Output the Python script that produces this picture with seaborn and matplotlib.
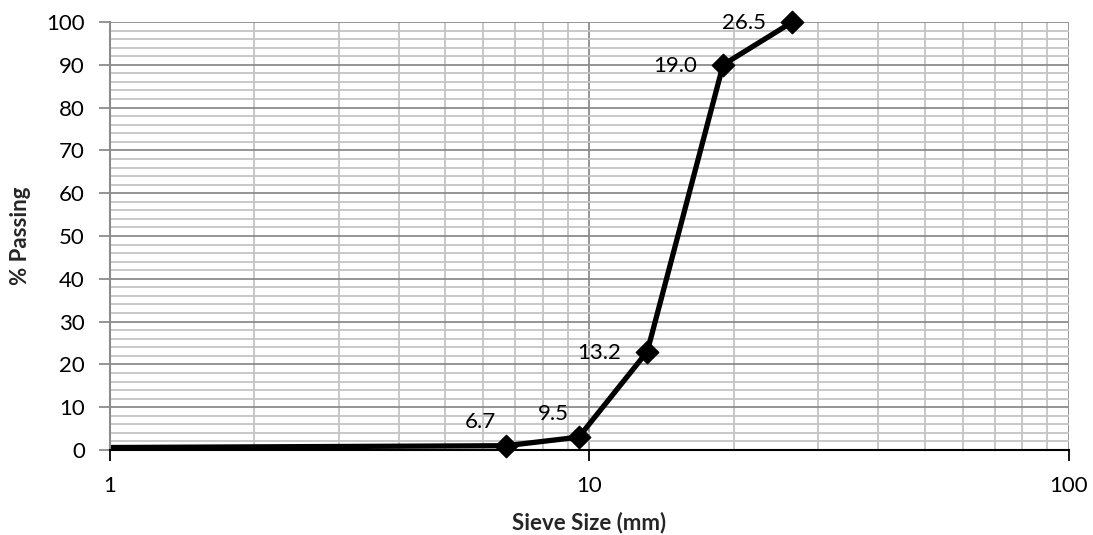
import numpy as np
import pandas as pd
import matplotlib
matplotlib.use("Agg")
import matplotlib.pyplot as plt
import seaborn as sns
from matplotlib.ticker import LogLocator, FixedLocator, NullFormatter, FuncFormatter

# Sieve analysis results
sieve_mm = [0.075, 6.7, 9.5, 13.2, 19.0, 26.5]
passing = [0.0, 1.0, 3.0, 23.0, 90.0, 100.0]
labels = ["0.075", "6.7", "9.5", "13.2", "19.0", "26.5"]

sns.set_theme(style="white")
plt.rcParams["font.family"] = ["Lato", "DejaVu Sans"]

fig = plt.figure(figsize=(10.93, 5.35), dpi=100)
ax = fig.add_axes([0.1006, 0.1589, 0.8774, 0.8000])

X_MIN, X_MAX = 1, 100
df = pd.DataFrame({"size": sieve_mm, "pass": passing, "label": labels})

# grading curve (clipped to the plot area)
sns.lineplot(data=df, x="size", y="pass", ax=ax, color="black", lw=3.8,
             sort=False)
# diamond markers for sieves inside the axis range, drawn over the frame
shown = df[(df["size"] >= X_MIN) & (df["size"] <= X_MAX)]
sns.scatterplot(data=shown, x="size", y="pass", ax=ax, color="black",
                marker="D", s=130, edgecolor="black", linewidth=1,
                clip_on=False, zorder=5)

ax.set_xscale("log")
ax.set_xlim(X_MIN, X_MAX)
ax.set_ylim(0, 100)

# grid: major decades / tens, minor units / twos
ax.xaxis.set_major_locator(FixedLocator([1, 10, 100]))
ax.xaxis.set_minor_locator(LogLocator(base=10, subs=np.arange(2, 10)))
ax.xaxis.set_major_formatter(FuncFormatter(lambda v, p: f"{v:g}"))
ax.xaxis.set_minor_formatter(NullFormatter())
ax.yaxis.set_major_locator(FixedLocator(np.arange(0, 101, 10)))
ax.yaxis.set_minor_locator(FixedLocator(np.arange(0, 101, 2)))

ax.grid(which="major", color="#8c8c8c", lw=1.3)
ax.grid(which="minor", color="#c4c4c4", lw=1.3)
ax.set_axisbelow(True)

for side in ["top", "right"]:
    ax.spines[side].set_visible(False)
ax.spines["left"].set_color("#8c8c8c")
ax.spines["left"].set_linewidth(1.5)
ax.spines["bottom"].set_color("black")
ax.spines["bottom"].set_linewidth(1.5)

ax.tick_params(axis="y", which="major", length=8, width=1.3, color="#8c8c8c",
               direction="out", left=True, labelsize=16, pad=10)
ax.tick_params(axis="y", which="minor", length=0)
ax.tick_params(axis="x", which="major", length=8, width=1.3, color="black",
               direction="out", bottom=True, labelsize=16, pad=11)
ax.tick_params(axis="x", which="minor", length=0)
for t in ax.get_xticklabels() + ax.get_yticklabels():
    t.set_color("black")

ax.set_xlabel("Sieve Size (mm)", fontsize=16, fontweight="bold", labelpad=11)
ax.set_ylabel("% Passing", fontsize=16, fontweight="bold", labelpad=11)

# value labels to the left of each point (raised above the curve near zero)
for x, y, lab in zip(shown["size"], shown["pass"], shown["label"]):
    if y < 5:
        off = (-7, 17)
    else:
        off = (-19, -1)
    ax.annotate(lab, (x, y), xytext=off, textcoords="offset points",
                ha="right", va="center", fontsize=16, color="black",
                annotation_clip=False)

fig.savefig("out.png", dpi=100)
